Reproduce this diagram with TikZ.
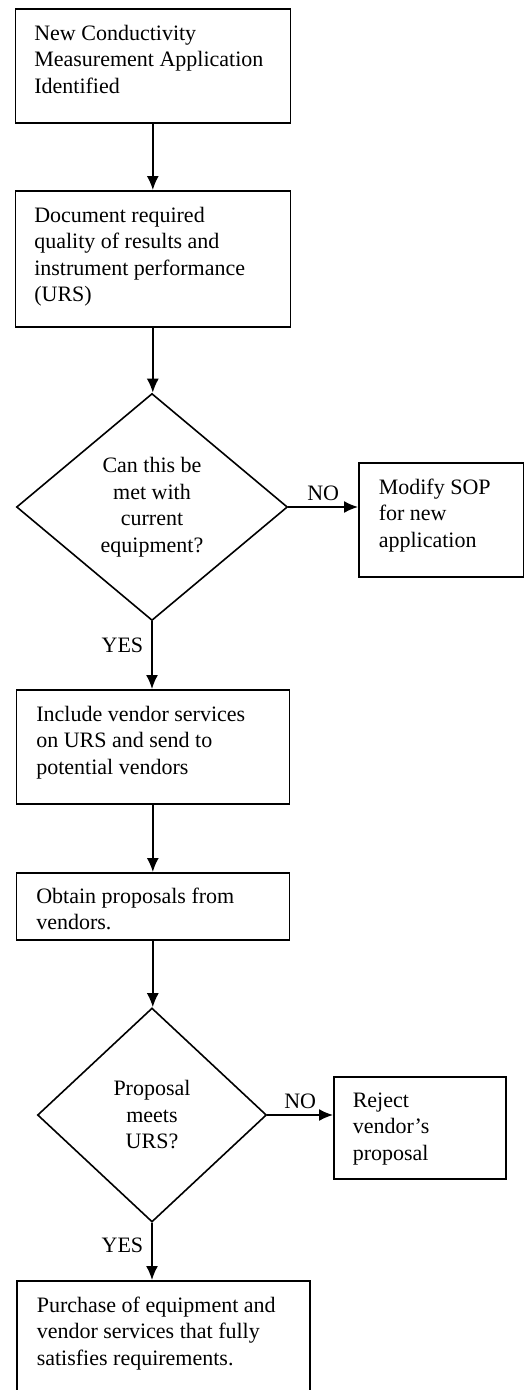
\documentclass[tikz,border=0pt]{standalone}
\usepackage{fontspec}
\setmainfont{Liberation Serif}
\usetikzlibrary{arrows.meta,shapes.geometric}
\begin{document}
\begin{tikzpicture}[>={Latex[length=14pt,width=12pt]},x=1pt,y=-1pt,line width=1.6pt,
  font=\fontsize{22}{26.5}\selectfont,
  stepbox/.style={draw,anchor=north west,inner sep=0pt},
  steptext/.style={anchor=north west,inner sep=0pt,align=left},
  decision/.style={draw,diamond,inner sep=0pt,align=center}]
\useasboundingbox (0,0) rectangle (524,1390);

\node[stepbox,minimum width=275,minimum height=114] (ident) at (14.5,8) {};
\node[steptext] (ident-t) at ([shift={(19,16)}]ident.north west)
  {New Conductivity\\Measurement Application\\Identified};

\node[stepbox,minimum width=275,minimum height=136] (urs) at (14.5,190) {};
\node[steptext] (urs-t) at ([shift={(19,16)}]urs.north west)
  {Document required\\quality of results and\\instrument performance\\(URS)};

\node[decision,minimum width=271,minimum height=227] (equip) at (152,507)
  {Can this be\\met with\\current\\equipment?};

\node[stepbox,minimum width=165,minimum height=114] (modify) at (358,462) {};
\node[steptext] (modify-t) at ([shift={(20,16)}]modify.north west)
  {Modify SOP\\for new\\application};

\node[stepbox,minimum width=273,minimum height=114] (vend) at (15.5,689) {};
\node[steptext] (vend-t) at ([shift={(20,16)}]vend.north west)
  {Include vendor services\\on URS and send to\\potential vendors};

\node[stepbox,minimum width=273,minimum height=67] (obtain) at (15.5,872) {};
\node[steptext] (obtain-t) at ([shift={(20,15)}]obtain.north west)
  {Obtain proposals from\\vendors.};

\node[decision,minimum width=229,minimum height=214] (meets) at (152,1115)
  {Proposal\\meets\\URS?};

\node[stepbox,minimum width=172,minimum height=102] (reject) at (333,1076) {};
\node[steptext] (reject-t) at ([shift={(19,16)}]reject.north west)
  {Reject\\vendor's\\proposal};

\node[stepbox,minimum width=293,minimum height=140] (buy) at (16,1280) {};
\node[steptext] (buy-t) at ([shift={(20,16)}]buy.north west)
  {Purchase of equipment and\\vendor services that fully\\satisfies requirements.};

\draw[->] (ident) -- (ident |- urs.north);
\draw[->] (urs) -- (urs |- equip.north);
\draw[->] (equip) -- node[above=5pt,inner sep=0pt] (no1) {NO} (equip -| modify.west);
\draw[->] (equip) -- node[left=8pt,pos=.36,inner sep=0pt] (yes1) {YES} (equip |- vend.north);
\draw[->] (vend) -- (vend |- obtain.north);
\draw[->] (obtain) -- (obtain |- meets.north);
\draw[->] (meets) -- node[above=5pt,inner sep=0pt] (no2) {NO} (meets -| reject.west);
\draw[->] (meets) -- node[left=8pt,pos=.4,inner sep=0pt] (yes2) {YES} (meets |- buy.north);

\end{tikzpicture}
\end{document}
